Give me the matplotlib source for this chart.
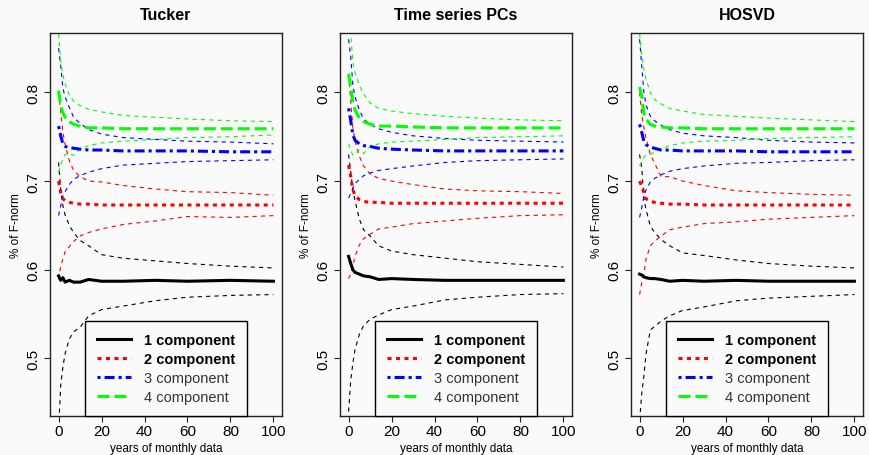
import matplotlib.pyplot as plt

plt.rcParams['font.family'] = ['Liberation Sans', 'DejaVu Sans']
plt.rcParams['lines.scale_dashes'] = False

years = [0, 1, 2, 3, 5, 7, 10, 14, 20, 30, 45, 60, 80, 100]

# Tucker: mean, upper, lower for each number of components
tk1_mean = [0.593, 0.588, 0.591, 0.586, 0.588, 0.586, 0.586, 0.589, 0.587, 0.587, 0.588, 0.587, 0.588, 0.587]
tk1_up = [0.721, 0.690, 0.672, 0.662, 0.650, 0.642, 0.633, 0.627, 0.617, 0.613, 0.610, 0.607, 0.604, 0.602]
tk1_lo = [0.420, 0.470, 0.490, 0.505, 0.522, 0.530, 0.535, 0.548, 0.555, 0.559, 0.565, 0.569, 0.571, 0.572]
tk2_mean = [0.700, 0.687, 0.680, 0.678, 0.676, 0.675, 0.674, 0.674, 0.673, 0.673, 0.673, 0.673, 0.673, 0.673]
tk2_up = [0.800, 0.778, 0.755, 0.742, 0.723, 0.712, 0.705, 0.700, 0.699, 0.695, 0.691, 0.688, 0.687, 0.684]
tk2_lo = [0.589, 0.604, 0.612, 0.620, 0.626, 0.632, 0.638, 0.642, 0.646, 0.651, 0.655, 0.660, 0.659, 0.661]
tk3_mean = [0.762, 0.751, 0.742, 0.739, 0.738, 0.737, 0.736, 0.735, 0.735, 0.734, 0.734, 0.734, 0.733, 0.733]
tk3_up = [0.850, 0.830, 0.805, 0.795, 0.783, 0.772, 0.765, 0.758, 0.753, 0.749, 0.747, 0.745, 0.744, 0.742]
tk3_lo = [0.661, 0.672, 0.683, 0.688, 0.696, 0.702, 0.706, 0.710, 0.714, 0.718, 0.720, 0.722, 0.723, 0.724]
tk4_mean = [0.802, 0.785, 0.777, 0.772, 0.767, 0.764, 0.762, 0.760, 0.760, 0.759, 0.759, 0.759, 0.759, 0.759]
tk4_up = [0.866, 0.835, 0.820, 0.810, 0.797, 0.790, 0.785, 0.781, 0.778, 0.774, 0.772, 0.770, 0.768, 0.767]
tk4_lo = [0.710, 0.718, 0.725, 0.730, 0.731, 0.729, 0.736, 0.740, 0.743, 0.745, 0.747, 0.749, 0.750, 0.752]

# Time series PCs
ts1_mean = [0.615, 0.607, 0.600, 0.597, 0.595, 0.593, 0.592, 0.589, 0.590, 0.589, 0.588, 0.588, 0.588, 0.588]
ts1_up = [0.730, 0.710, 0.690, 0.678, 0.657, 0.645, 0.638, 0.627, 0.621, 0.617, 0.613, 0.609, 0.606, 0.603]
ts1_lo = [0.440, 0.475, 0.495, 0.510, 0.527, 0.537, 0.544, 0.549, 0.555, 0.559, 0.566, 0.569, 0.572, 0.573]
ts2_mean = [0.718, 0.705, 0.690, 0.684, 0.679, 0.677, 0.676, 0.676, 0.675, 0.675, 0.675, 0.675, 0.675, 0.675]
ts2_up = [0.820, 0.790, 0.760, 0.745, 0.728, 0.717, 0.708, 0.703, 0.700, 0.696, 0.691, 0.689, 0.688, 0.686]
ts2_lo = [0.590, 0.595, 0.605, 0.615, 0.628, 0.635, 0.640, 0.646, 0.648, 0.652, 0.655, 0.658, 0.661, 0.662]
ts3_mean = [0.782, 0.768, 0.752, 0.746, 0.742, 0.740, 0.739, 0.737, 0.736, 0.735, 0.734, 0.734, 0.734, 0.734]
ts3_up = [0.860, 0.840, 0.808, 0.795, 0.780, 0.770, 0.764, 0.759, 0.755, 0.751, 0.748, 0.746, 0.745, 0.744]
ts3_lo = [0.681, 0.686, 0.692, 0.697, 0.702, 0.706, 0.709, 0.712, 0.714, 0.717, 0.721, 0.723, 0.724, 0.725]
ts4_mean = [0.821, 0.806, 0.790, 0.780, 0.771, 0.767, 0.764, 0.762, 0.762, 0.761, 0.760, 0.760, 0.760, 0.760]
ts4_up = [0.870, 0.866, 0.834, 0.822, 0.808, 0.798, 0.788, 0.782, 0.779, 0.776, 0.773, 0.771, 0.769, 0.768]
ts4_lo = [0.742, 0.735, 0.729, 0.731, 0.735, 0.731, 0.739, 0.742, 0.744, 0.745, 0.747, 0.749, 0.750, 0.751]

# HOSVD
ho1_mean = [0.595, 0.594, 0.592, 0.591, 0.590, 0.590, 0.589, 0.587, 0.588, 0.587, 0.588, 0.587, 0.587, 0.587]
ho1_up = [0.730, 0.715, 0.680, 0.668, 0.649, 0.642, 0.634, 0.627, 0.619, 0.616, 0.611, 0.607, 0.604, 0.602]
ho1_lo = [0.430, 0.460, 0.480, 0.505, 0.532, 0.536, 0.542, 0.548, 0.554, 0.558, 0.565, 0.568, 0.570, 0.572]
ho2_mean = [0.700, 0.694, 0.687, 0.680, 0.677, 0.676, 0.675, 0.674, 0.674, 0.673, 0.673, 0.673, 0.673, 0.673]
ho2_up = [0.800, 0.775, 0.760, 0.748, 0.730, 0.720, 0.705, 0.705, 0.700, 0.695, 0.689, 0.687, 0.685, 0.684]
ho2_lo = [0.572, 0.585, 0.596, 0.612, 0.627, 0.632, 0.638, 0.645, 0.648, 0.652, 0.654, 0.657, 0.659, 0.661]
ho3_mean = [0.764, 0.755, 0.745, 0.741, 0.738, 0.737, 0.735, 0.735, 0.734, 0.734, 0.734, 0.733, 0.733, 0.733]
ho3_up = [0.860, 0.830, 0.800, 0.786, 0.773, 0.768, 0.763, 0.758, 0.754, 0.751, 0.749, 0.746, 0.744, 0.743]
ho3_lo = [0.659, 0.670, 0.683, 0.690, 0.699, 0.703, 0.707, 0.711, 0.714, 0.717, 0.720, 0.721, 0.723, 0.724]
ho4_mean = [0.806, 0.796, 0.776, 0.770, 0.764, 0.762, 0.761, 0.760, 0.760, 0.759, 0.759, 0.759, 0.759, 0.759]
ho4_up = [0.866, 0.842, 0.826, 0.815, 0.800, 0.792, 0.787, 0.782, 0.779, 0.775, 0.773, 0.771, 0.769, 0.767]
ho4_lo = [0.717, 0.722, 0.727, 0.729, 0.730, 0.733, 0.736, 0.740, 0.743, 0.745, 0.746, 0.748, 0.749, 0.750]

titles = ['Tucker', 'Time series PCs', 'HOSVD']
comp_labels = ['1 component', '2 component', '3 component', '4 component']
comp_colors = ['black', 'red', 'blue', '#00ff00']
comp_dashes = [None, (2.9, 3.2), (2.2, 2.9, 7.2, 2.9), (8.6, 3.6)]

panel_data = [
    [(tk1_mean, tk1_up, tk1_lo), (tk2_mean, tk2_up, tk2_lo), (tk3_mean, tk3_up, tk3_lo), (tk4_mean, tk4_up, tk4_lo)],
    [(ts1_mean, ts1_up, ts1_lo), (ts2_mean, ts2_up, ts2_lo), (ts3_mean, ts3_up, ts3_lo), (ts4_mean, ts4_up, ts4_lo)],
    [(ho1_mean, ho1_up, ho1_lo), (ho2_mean, ho2_up, ho2_lo), (ho3_mean, ho3_up, ho3_lo), (ho4_mean, ho4_up, ho4_lo)],
]

bg = '#fafafa'
fig = plt.figure(figsize=(8.7, 4.56), dpi=100, facecolor=bg)
lefts = [50, 340, 631]

for p in range(3):
    ax = fig.add_axes([lefts[p] / 870, 39 / 456, 232 / 870, 383 / 456])
    ax.set_facecolor(bg)
    handles = []
    for k in range(4):
        mid, up, lo = panel_data[p][k]
        c = comp_colors[k]
        for b in (up, lo):
            ax.plot(years, b, color=c, lw=0.8, dashes=(3.0, 3.0), zorder=2)
        if comp_dashes[k] is None:
            ln, = ax.plot(years, mid, color=c, lw=2.2, zorder=3)
        else:
            ln, = ax.plot(years, mid, color=c, lw=2.2, dashes=comp_dashes[k], zorder=3)
        handles.append(ln)

    ax.set_xlim(-4, 104)
    ax.set_ylim(0.435, 0.867)
    ax.set_xticks([0, 20, 40, 60, 80, 100])
    ax.set_yticks([0.5, 0.6, 0.7, 0.8])
    ax.set_yticklabels(['0.5', '0.6', '0.7', '0.8'], rotation=90, va='center')
    ax.tick_params(axis='both', labelsize=11, length=4, width=0.8, color='#222222')
    ax.tick_params(axis='x', pad=2)
    ax.tick_params(axis='y', pad=3)
    for s in ax.spines.values():
        s.set_color('#222222')
        s.set_linewidth(1.0)

    ax.set_title(titles[p], fontweight='bold', fontsize=11.5, pad=10)
    ax.set_xlabel('years of monthly data', fontsize=8.5, labelpad=3)
    ax.set_ylabel('% of F-norm', fontsize=8.5, labelpad=3)

    leg = ax.legend(handles, comp_labels, loc='lower center', borderaxespad=0,
                    fontsize=10.5, frameon=True, fancybox=False, edgecolor='black',
                    facecolor=bg, framealpha=1, handlelength=2.3, handletextpad=0.9,
                    labelspacing=0.33, borderpad=0.85)
    leg.get_frame().set_linewidth(1.0)
    leg.set_zorder(5)
    for i, t in enumerate(leg.get_texts()):
        if i < 2:
            t.set_fontweight('bold')
        else:
            t.set_color('#333333')

plt.savefig('out.png', dpi=100, facecolor=bg)
